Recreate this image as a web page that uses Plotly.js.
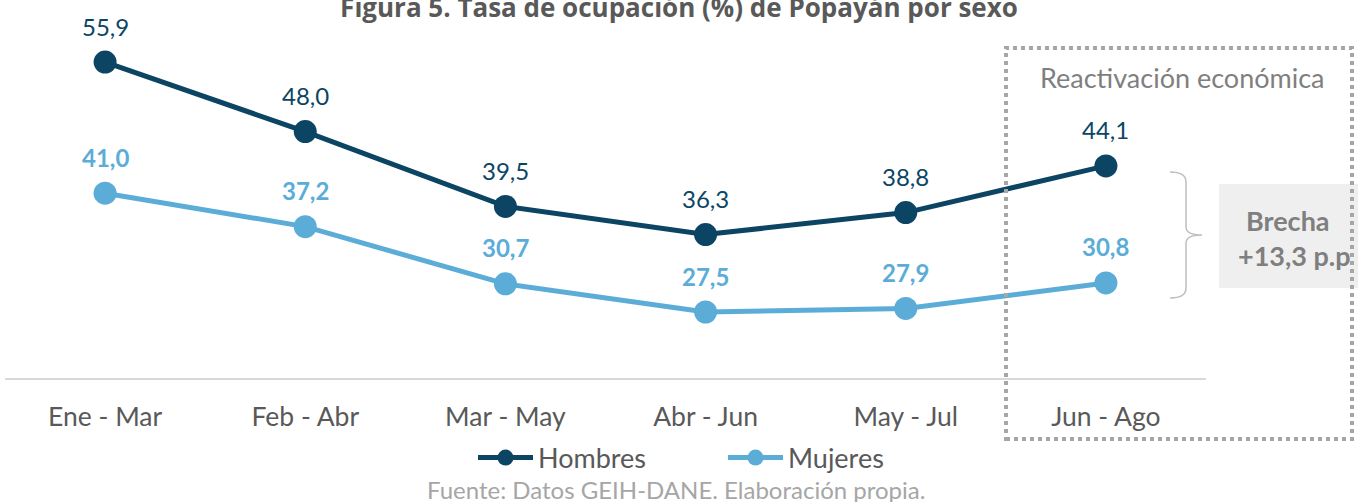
<!DOCTYPE html>
<html>
<head>
<meta charset="utf-8">
<script src="https://cdn.plot.ly/plotly-3.0.1.min.js"></script>
<style>html,body{margin:0;padding:0;background:#fff;}#chart{width:1358px;height:502px;}</style>
</head>
<body>
<div id="chart"></div>
<script>
const categories = ["Ene - Mar", "Feb - Abr", "Mar - May", "Abr - Jun", "May - Jul", "Jun - Ago"];
const hombres = [55.9, 48.0, 39.5, 36.3, 38.8, 44.1];
const mujeres = [41.0, 37.2, 30.7, 27.5, 27.9, 30.8];
const seriesNames = ["Hombres", "Mujeres"];
const titleText = "Figura 5. Tasa de ocupación (%) de Popayán por sexo";
const regionLabel = "Reactivación económica";
const gapLabel = ["Brecha", "+13,3 p.p"];
const sourceText = "Fuente: Datos GEIH-DANE. Elaboración propia.";

const DARK = "#0b4563";
const LIGHT = "#5badd8";
const FONT = "Lato, 'Open Sans', sans-serif";

// plot-area pixel frame
const L = 5, R = 1206, T = 26, B = 378;
const W = 1358, H = 502;
const px = p => (p - L) / (R - L);
const py = p => (B - p) / (B - T);

const fmt = v => v.toFixed(1).replace('.', ',');

const traces = [
  {x: categories, y: hombres, name: seriesNames[0], type: 'scatter', mode: 'lines+markers',
   line: {color: DARK, width: 5}, marker: {color: DARK, size: 23}, hoverinfo: 'skip'},
  {x: categories, y: mujeres, name: seriesNames[1], type: 'scatter', mode: 'lines+markers',
   line: {color: LIGHT, width: 5}, marker: {color: LIGHT, size: 23}, hoverinfo: 'skip'}
];

const annotations = [];
categories.forEach((c, i) => {
  annotations.push({x: c, y: hombres[i], xref: 'x', yref: 'y', text: fmt(hombres[i]), showarrow: false,
    yshift: 36, font: {family: FONT, size: 24, color: DARK}});
  annotations.push({x: c, y: mujeres[i], xref: 'x', yref: 'y', text: '<b>' + fmt(mujeres[i]) + '</b>', showarrow: false,
    yshift: 36, font: {family: FONT, size: 24, color: LIGHT}});
});
annotations.push({xref: 'paper', yref: 'paper', x: px(1182), y: py(77), text: regionLabel, showarrow: false,
  xanchor: 'center', yanchor: 'middle', font: {family: FONT, size: 27, color: '#7f7f7f'}});
annotations.push({xref: 'paper', yref: 'paper', x: px(1288), y: py(220), text: '<b>' + gapLabel[0] + '</b>', showarrow: false,
  xanchor: 'center', yanchor: 'middle', font: {family: FONT, size: 27, color: '#7f7f7f'}});
annotations.push({xref: 'paper', yref: 'paper', x: px(1236), y: py(255), text: '<b>' + gapLabel[1] + '</b>', showarrow: false,
  xanchor: 'left', yanchor: 'middle', font: {family: FONT, size: 27, color: '#7f7f7f'}});
annotations.push({xref: 'paper', yref: 'paper', x: px(676), y: py(489), text: sourceText, showarrow: false,
  xanchor: 'center', yanchor: 'middle', font: {family: FONT, size: 24, color: '#a6a6a6'}});

const bx1 = 1170, bx2 = 1186, bx3 = 1202, by1 = 172, by2 = 235, by3 = 298;
const bracePath = [
  `M ${px(bx1)},${py(by1)}`,
  `Q ${px(bx2)},${py(by1)} ${px(bx2)},${py(by1 + 10)}`,
  `L ${px(bx2)},${py(by2 - 8)}`,
  `Q ${px(bx2)},${py(by2)} ${px(bx3)},${py(by2)}`,
  `Q ${px(bx2)},${py(by2)} ${px(bx2)},${py(by2 + 8)}`,
  `L ${px(bx2)},${py(by3 - 10)}`,
  `Q ${px(bx2)},${py(by3)} ${px(bx1)},${py(by3)}`
].join(' ');

const shapes = [
  {type: 'rect', xref: 'paper', yref: 'paper', x0: px(1219), x1: px(1362), y0: py(288), y1: py(184),
   fillcolor: '#efefef', line: {width: 0}, layer: 'below'},
  {type: 'rect', xref: 'paper', yref: 'paper', x0: px(1006), x1: px(1352), y0: py(439), y1: py(48),
   line: {color: '#a6a6a6', width: 4, dash: 'dot'}, fillcolor: 'rgba(0,0,0,0)'},
  {type: 'path', xref: 'paper', yref: 'paper', path: bracePath, line: {color: '#bfbfbf', width: 1.5}}
];

const layout = {
  width: W, height: H,
  margin: {l: L, r: W - R, t: T, b: H - B, pad: 0},
  paper_bgcolor: '#ffffff', plot_bgcolor: '#ffffff',
  font: {family: FONT, color: '#595959'},
  title: {text: '<b>' + titleText + '</b>', x: 0.5, xref: 'container', xanchor: 'center',
    y: 1 - 8 / H, yref: 'container', yanchor: 'middle',
    font: {family: "'Open Sans', sans-serif", size: 26, color: '#595959'}},
  xaxis: {type: 'category', range: [-0.5, 5.5], showgrid: false, zeroline: false,
    showline: true, linecolor: '#d9d9d9', linewidth: 2,
    ticks: 'outside', ticklen: 14, tickcolor: 'rgba(0,0,0,0)',
    tickfont: {family: FONT, size: 26.5, color: '#595959'}, fixedrange: true},
  yaxis: {range: [20, 60], showgrid: false, zeroline: false, showline: false, showticklabels: false,
    ticks: '', fixedrange: true},
  showlegend: true,
  legend: {orientation: 'h', x: px(473), xanchor: 'left', y: py(458), yanchor: 'middle',
    font: {family: FONT, size: 27, color: '#595959'}, bgcolor: 'rgba(0,0,0,0)',
    entrywidth: 180, itemwidth: 55},
  annotations: annotations,
  shapes: shapes
};

Plotly.newPlot('chart', traces, layout, {displayModeBar: false, staticPlot: true});
</script>
</body>
</html>
